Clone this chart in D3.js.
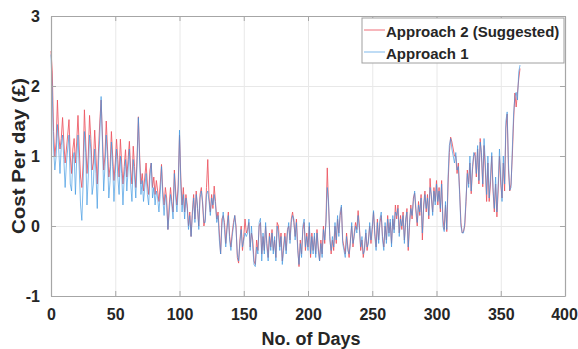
<!DOCTYPE html>
<meta charset="utf-8">
<body style="margin:0;background:#fff">
<svg id="chart" width="578" height="349"></svg>
<script src="https://cdn.jsdelivr.net/npm/d3@7"></script>
<script>
// daily cost per day (day 0 .. 365)
var approach2 = [
 2.5, 2.2, 1.35, 1.0, 1.2, 1.8, 1.3, 1.1, 1.25, 1.55,
 1.2, 0.9, 1.1, 1.3, 1.52, 1.0, 0.75, 1.1, 1.25, 0.9,
 1.2, 1.58, 1.1, 0.7, 0.55, 0.9, 1.66, 1.2, 0.75, 1.0,
 1.58, 1.25, 0.8, 0.9, 1.37, 1.0, 0.6, 1.1, 1.5, 1.8,
 1.3, 0.8, 1.0, 1.5, 1.1, 0.7, 0.85, 1.35, 1.0, 0.65,
 0.9, 1.24, 0.95, 0.7, 1.24, 0.9, 0.6, 0.85, 1.09, 0.7,
 0.95, 1.21, 0.8, 0.6, 1.14, 0.85, 0.55, 1.0, 1.56, 1.0,
 0.6, 0.75, 0.5, 0.7, 0.9, 0.6, 0.45, 0.8, 0.9, 0.55,
 0.7, 0.45, 0.65, 0.5, 0.35, 0.6, 0.88, 0.5, 0.3, 0.55,
 0.4, -0.05, 0.3, 0.55, 0.35, 0.2, 0.8, 0.5, 0.3, 0.6,
 1.3, 0.7, 0.3, 0.55, 0.2, 0.45, 0.3, 0.0, 0.2, -0.15,
 0.2, 0.45, 0.1, 0.5, 0.25, 0.0, 0.45, 0.55, 0.3, 0.0,
 0.1, 0.55, 0.95, 0.4, 0.2, 0.45, 0.25, 0.57, 0.35, 0.1,
 0.2, -0.1, -0.4, 0.1, 0.15, 0.05, -0.25, 0.0, 0.2, -0.15,
 -0.3, -0.1, 0.05, 0.15, 0.0, -0.45, -0.53, -0.2, 0.0, -0.35,
 -0.15, 0.1, -0.1, -0.05, 0.05, -0.3, -0.1, -0.2, -0.5, -0.55,
 -0.2, -0.35, 0.0, 0.05, -0.4, -0.15, -0.35, 0.0, -0.25, -0.45,
 -0.1, -0.3, -0.05, -0.35, -0.2, -0.45, 0.05, 0.0, -0.3, -0.1,
 -0.5, -0.3, -0.1, -0.35, -0.05, 0.0, -0.2, 0.1, 0.2, 0.05,
 -0.15, 0.1, -0.3, -0.58, -0.2, -0.4, -0.05, 0.05, -0.35, -0.1,
 -0.3, 0.0, -0.45, -0.1, -0.35, -0.15, -0.4, -0.05, -0.3, -0.5,
 -0.2, -0.4, 0.0, -0.25, 0.1, 0.83, 0.3, -0.15, -0.4, -0.2,
 -0.35, 0.0, -0.25, 0.1, -0.1, 0.15, 0.27, -0.2, -0.3, -0.4,
 -0.1, -0.3, -0.45, -0.2, 0.0, -0.3, -0.1, 0.05, -0.05, 0.22,
 0.0, -0.35, -0.2, -0.45, -0.3, -0.1, -0.35, -0.2, 0.0, -0.25,
 -0.05, 0.2, -0.1, -0.3, 0.1, -0.2, 0.05, 0.15, -0.15, -0.3,
 0.0, -0.2, 0.15, -0.1, 0.05, -0.25, 0.1, -0.05, 0.3, 0.1,
 0.3, -0.1, 0.15, -0.05, 0.2, -0.2, 0.05, 0.25, -0.35, 0.0,
 0.3, 0.1, 0.4, 0.47, 0.2, 0.0, 0.35, 0.15, 0.45, -0.2,
 0.3, 0.5, 0.2, 0.45, 0.1, 0.68, 0.4, 0.2, 0.55, 0.35,
 0.65, 0.3, 0.55, 0.2, 0.65, 0.1, -0.05, 0.3, -0.08, 0.6,
 1.05, 1.27, 1.2, 1.1, 1.0, 1.0, 0.75, 0.9, 0.5, 0.05,
 -0.1, -0.08, 0.0, 0.35, 0.8, 0.6, 0.9, 0.46, 0.8, 1.0,
 1.05, 0.7, 1.1, 0.6, 1.25, 1.0, 0.56, 1.15, 0.8, 0.35,
 0.9, 0.35, 0.6, 1.0, 0.5, 0.2, 0.6, 0.13, 0.5, 1.0,
 0.6, 0.4, 0.9, 0.5, 1.4, 1.6, 0.8, 0.5, 0.6, 1.0,
 1.5, 1.9, 1.7, 1.9, 2.1, 2.25
];
var approach1 = [
 2.45, 1.9, 1.1, 0.8, 1.0, 1.45, 1.1, 0.75, 1.15, 1.3,
 0.95, 0.55, 0.9, 1.1, 1.3, 0.6, 0.5, 0.95, 1.05, 0.45,
 0.95, 1.3, 0.8, 0.3, 0.08, 0.6, 1.35, 1.05, 0.3, 0.7,
 1.3, 1.1, 0.45, 0.6, 1.1, 0.75, 0.25, 0.9, 1.3, 1.85,
 1.2, 0.5, 0.85, 1.3, 0.95, 0.4, 0.65, 1.2, 0.85, 0.35,
 0.75, 1.1, 0.7, 0.45, 1.0, 0.75, 0.3, 0.7, 0.95, 0.5,
 0.8, 1.1, 0.6, 0.35, 0.95, 0.7, 0.4, 0.9, 1.55, 0.9,
 0.45, 0.65, 0.35, 0.55, 0.75, 0.45, 0.3, 0.7, 0.9, 0.4,
 0.55, 0.3, 0.5, 0.4, 0.2, 0.45, 0.85, 0.4, 0.15, 0.45,
 0.3, -0.05, 0.2, 0.45, 0.3, 0.1, 0.75, 0.4, 0.2, 0.5,
 1.37, 0.6, 0.2, 0.45, 0.1, 0.4, 0.25, -0.05, 0.15, -0.15,
 0.15, 0.4, 0.05, 0.45, 0.3, -0.05, 0.4, 0.5, 0.35, 0.05,
 0.05, 0.45, 0.5, 0.35, 0.15, 0.4, 0.3, 0.45, 0.3, 0.05,
 0.15, -0.2, -0.4, 0.0, 0.2, -0.05, -0.3, -0.05, 0.15, -0.2,
 -0.35, -0.15, 0.0, 0.15, -0.05, -0.4, -0.5, -0.25, -0.05, -0.3,
 -0.2, -0.1, -0.15, -0.1, 0.1, -0.35, 0.0, -0.3, -0.55, -0.58,
 -0.3, -0.4, 0.05, 0.11, -0.5, -0.1, -0.4, 0.05, -0.3, -0.5,
 -0.15, -0.35, -0.1, -0.4, -0.15, -0.5, 0.0, -0.1, -0.35, -0.15,
 -0.55, -0.35, -0.15, -0.4, -0.1, 0.05, -0.25, 0.05, 0.15, 0.1,
 -0.2, 0.05, -0.35, -0.55, -0.25, -0.45, 0.0, 0.1, -0.3, -0.15,
 -0.35, 0.05, -0.4, -0.15, -0.4, -0.1, -0.45, -0.1, -0.35, -0.5,
 -0.25, -0.45, -0.05, -0.2, 0.05, 0.55, 0.35, -0.2, -0.35, -0.15,
 -0.3, 0.05, -0.2, 0.15, -0.15, 0.2, 0.3, -0.25, -0.35, -0.45,
 -0.15, -0.35, -0.4, -0.25, 0.05, -0.25, -0.15, 0.0, -0.1, 0.15,
 -0.05, -0.3, -0.15, -0.4, -0.35, -0.05, -0.3, -0.25, 0.05, -0.2,
 0.0, 0.22, -0.15, -0.35, 0.05, -0.25, 0.1, 0.2, -0.2, -0.35,
 0.05, -0.25, 0.1, -0.15, 0.1, -0.3, 0.15, -0.1, 0.2, 0.15,
 0.25, -0.15, 0.1, 0.0, 0.15, -0.25, 0.1, 0.2, -0.3, 0.05,
 0.25, 0.15, 0.35, 0.5, 0.25, 0.05, 0.3, 0.2, 0.4, -0.1,
 0.25, 0.45, 0.25, 0.4, 0.15, 0.55, 0.45, 0.15, 0.5, 0.3,
 0.6, 0.35, 0.5, 0.25, 0.6, 0.0, -0.08, 0.35, -0.05, 0.7,
 1.15, 1.25, 1.1, 1.0, 0.9, 1.05, 0.8, 0.85, 0.45, 0.0,
 -0.1, -0.1, 0.05, 0.4, 0.75, 0.55, 1.0, 0.5, 0.85, 1.05,
 1.0, 0.75, 1.15, 0.65, 1.2, 1.05, 0.6, 1.25, 0.9, 0.45,
 1.0, 0.4, 0.7, 1.05, 0.55, 0.25, 0.7, 0.2, 0.6, 1.1,
 0.7, 0.35, 1.0, 0.6, 1.5, 1.63, 0.9, 0.51, 0.55, 1.1,
 1.6, 1.85, 1.91, 1.8, 2.2, 2.3
];
var xTicks = [0, 50, 100, 150, 200, 250, 300, 350, 400];
var yTicks = [-1, 0, 1, 2, 3];
var seriesNames = ["Approach 2 (Suggested)", "Approach 1"];
var seriesColors = ["#ec5560", "#3a95e0"];

var margin = {top: 16, right: 13, bottom: 53, left: 51},
    width = 578 - margin.left - margin.right,
    height = 349 - margin.top - margin.bottom;

var svg = d3.select("#chart")
  .style("font-family", "'Liberation Sans', Arial, sans-serif")
  .append("g")
  .attr("transform", "translate(" + margin.left + "," + margin.top + ")");

var x = d3.scaleLinear().domain([0, 400]).range([0, width]);
var y = d3.scaleLinear().domain([-1, 3]).range([height, 0]);

//grid
svg.append("g").attr("class", "grid")
  .attr("transform", "translate(0," + height + ")")
  .call(d3.axisBottom(x).tickValues(xTicks).tickSize(-height).tickFormat(""));
svg.append("g").attr("class", "grid")
  .call(d3.axisLeft(y).tickValues(yTicks).tickSize(-width).tickFormat(""));
svg.selectAll(".grid line").attr("stroke", "#e8e8e8");
svg.selectAll(".grid path").remove();

//lines: red first, blue semi-transparent on top so overlaps turn purple
var line = d3.line()
  .x(function (d, i) { return x(i); })
  .y(function (d) { return y(d); });

svg.append("path").datum(approach2)
  .attr("d", line).attr("fill", "none")
  .attr("stroke", seriesColors[0]).attr("stroke-width", 1)
  .attr("stroke-opacity", 0.85);
svg.append("path").datum(approach1)
  .attr("d", line).attr("fill", "none")
  .attr("stroke", seriesColors[1]).attr("stroke-width", 1)
  .attr("stroke-opacity", 0.65);

//axes with inward ticks
var axisColor = "#a6a6a6";
var fmt = function (d) { return String(d); };
var axBottom = svg.append("g").attr("transform", "translate(0," + height + ")")
  .call(d3.axisBottom(x).tickValues(xTicks).tickFormat(fmt).tickSizeInner(-5).tickSizeOuter(0).tickPadding(13));
var axLeft = svg.append("g")
  .call(d3.axisLeft(y).tickValues(yTicks).tickFormat(fmt).tickSizeInner(-5).tickSizeOuter(0).tickPadding(11));
var axTop = svg.append("g")
  .call(d3.axisTop(x).tickValues(xTicks).tickSizeInner(-5).tickSizeOuter(0).tickFormat(""));
var axRight = svg.append("g").attr("transform", "translate(" + width + ",0)")
  .call(d3.axisRight(y).tickValues(yTicks).tickSizeInner(-5).tickSizeOuter(0).tickFormat(""));
[axBottom, axLeft, axTop, axRight].forEach(function (a) {
  a.selectAll("path").attr("stroke", axisColor).attr("stroke-width", 1.2);
  a.selectAll("line").attr("stroke", axisColor);
  a.selectAll("text").attr("fill", "#262626")
    .style("font-size", "16px").style("font-weight", "bold");
});
// keep the last x label inside the window
axBottom.selectAll(".tick text").filter(function (d) { return d === 400; })
  .attr("dx", -1);

//axis titles
svg.append("text")
  .attr("x", width / 2 + 3).attr("y", height + 49)
  .attr("text-anchor", "middle")
  .style("font-size", "18px").style("font-weight", "bold").attr("fill", "#262626")
  .text("No. of Days");
svg.append("text")
  .attr("transform", "translate(-26," + (height / 2) + ") rotate(-90)")
  .attr("text-anchor", "middle")
  .attr("textLength", 156).attr("lengthAdjust", "spacingAndGlyphs")
  .style("font-size", "19px").style("font-weight", "bold").attr("fill", "#262626")
  .text("Cost Per day (£)");

//legend
var legend = svg.append("g").attr("transform", "translate(" + (width - 203) + ",2)");
legend.append("rect")
  .attr("width", 202).attr("height", 45)
  .attr("fill", "#fff").attr("stroke", "#a0a0a0");
seriesNames.forEach(function (name, i) {
  var ly = 12 + i * 22;
  legend.append("line")
    .attr("x1", 2).attr("x2", 23).attr("y1", ly).attr("y2", ly)
    .attr("stroke", seriesColors[i]).attr("stroke-width", 1)
    .attr("stroke-opacity", i ? 0.65 : 0.85);
  legend.append("text")
    .attr("x", 24).attr("y", ly + 7)
    .style("font-size", "15px").style("font-weight", "bold").attr("fill", "#262626")
    .text(name);
});
</script>
</body>
